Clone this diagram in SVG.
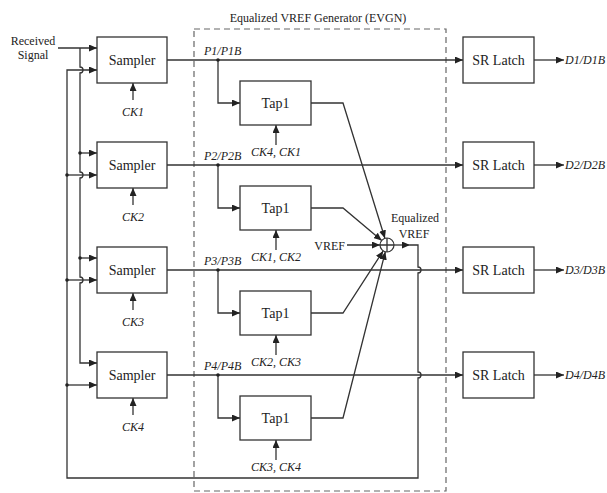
<svg xmlns="http://www.w3.org/2000/svg" width="607" height="493" viewBox="0 0 607 493" font-family="'Liberation Serif', 'Times New Roman', serif">
<style>
text{font-family:'Liberation Serif','Times New Roman',serif;fill:#222}
.box{fill:#fff;stroke:#333;stroke-width:1.3}
.lbl{font-size:14px;text-anchor:middle}
.it{font-size:12px;font-style:italic}
.sm{font-size:12px}
.c{text-anchor:middle}
.w{fill:none;stroke:#333;stroke-width:1.3}
.a{marker-end:url(#ah)}
.dot{fill:#222}
</style>
<defs>
<marker id="ah" markerUnits="userSpaceOnUse" markerWidth="8" markerHeight="7" refX="8" refY="3.5" orient="auto">
<path d="M0,0 L8,3.5 L0,7 z" fill="#222"/>
</marker>
</defs>
<rect x="194" y="29" width="252" height="462" fill="none" stroke="#666" stroke-width="1.2" stroke-dasharray="6,4"/>
<text class="sm c" x="318" y="22">Equalized VREF Generator (EVGN)</text>
<text class="sm c" x="33" y="45">Received</text>
<text class="sm c" x="33" y="59">Signal</text>
<g id="connectors">
<path class="w a" d="M58,48 H97"/>
<path class="w a" d="M80,48 V67 A3,3 0 0 1 80,73 V172 A3,3 0 0 1 80,178 V277 A3,3 0 0 1 80,283 V363 H97"/>
<path class="w a" d="M80,153 H97"/>
<path class="w a" d="M80,258 H97"/>
<path class="w a" d="M410,245 H418 V267 A3,3 0 0 1 418,273 V372 A3,3 0 0 1 418,378 V478 H67 V70 H97"/>
<path class="w a" d="M67,175 H97"/>
<path class="w a" d="M67,280 H97"/>
<path class="w a" d="M67,385 H97"/>
<path class="w a" d="M167,60 H463"/>
<path class="w a" d="M167,165 H463"/>
<path class="w a" d="M167,270 H463"/>
<path class="w a" d="M167,375 H463"/>
<path class="w a" d="M218,60 V103 H240"/>
<path class="w a" d="M218,165 V208 H240"/>
<path class="w a" d="M218,270 V313 H240"/>
<path class="w a" d="M218,375 V418 H240"/>
<path class="w a" d="M311,103 H343 L384.9,238.3"/>
<path class="w a" d="M311,208 H343 L381.7,240.6"/>
<path class="w a" d="M311,313 H343 L383.2,250.9"/>
<path class="w a" d="M311,418 H343 L385.3,251.8"/>
<path class="w a" d="M347,245 H380"/>
<path class="w a" d="M394,245 H410"/>
<path class="w a" d="M133,100 V83"/>
<path class="w a" d="M133,205 V188"/>
<path class="w a" d="M133,310 V293"/>
<path class="w a" d="M133,415 V398"/>
<path class="w a" d="M276,145 V125"/>
<path class="w a" d="M276,250 V230"/>
<path class="w a" d="M276,355 V335"/>
<path class="w a" d="M276,460 V440"/>
<path class="w a" d="M534,60 H564"/>
<path class="w a" d="M534,165 H564"/>
<path class="w a" d="M534,270 H564"/>
<path class="w a" d="M534,375 H564"/>
<circle class="dot" cx="80" cy="153" r="1.8"/>
<circle class="dot" cx="80" cy="258" r="1.8"/>
<circle class="dot" cx="67" cy="175" r="1.8"/>
<circle class="dot" cx="67" cy="280" r="1.8"/>
<circle class="dot" cx="67" cy="385" r="1.8"/>
<circle class="dot" cx="218" cy="60" r="1.8"/>
<circle class="dot" cx="218" cy="165" r="1.8"/>
<circle class="dot" cx="218" cy="270" r="1.8"/>
<circle class="dot" cx="218" cy="375" r="1.8"/>
</g>
<g id="sampler1"><rect class="box" x="97" y="37" width="70" height="46"/><text class="lbl" x="132" y="65">Sampler</text><text class="it c" x="133" y="116">CK1</text></g>
<g id="sampler2"><rect class="box" x="97" y="142" width="70" height="46"/><text class="lbl" x="132" y="170">Sampler</text><text class="it c" x="133" y="221">CK2</text></g>
<g id="sampler3"><rect class="box" x="97" y="247" width="70" height="46"/><text class="lbl" x="132" y="275">Sampler</text><text class="it c" x="133" y="326">CK3</text></g>
<g id="sampler4"><rect class="box" x="97" y="352" width="70" height="46"/><text class="lbl" x="132" y="380">Sampler</text><text class="it c" x="133" y="431">CK4</text></g>
<g id="plabels">
<text class="it" x="204" y="55">P1/P1B</text>
<text class="it" x="204" y="160">P2/P2B</text>
<text class="it" x="204" y="265">P3/P3B</text>
<text class="it" x="204" y="370">P4/P4B</text>
</g>
<g id="tap1"><rect class="box" x="240" y="81" width="71" height="44"/><text class="lbl" x="275.5" y="108">Tap1</text><text class="it c" x="276" y="156">CK4, CK1</text></g>
<g id="tap2"><rect class="box" x="240" y="186" width="71" height="44"/><text class="lbl" x="275.5" y="213">Tap1</text><text class="it c" x="276" y="261">CK1, CK2</text></g>
<g id="tap3"><rect class="box" x="240" y="291" width="71" height="44"/><text class="lbl" x="275.5" y="318">Tap1</text><text class="it c" x="276" y="366">CK2, CK3</text></g>
<g id="tap4"><rect class="box" x="240" y="396" width="71" height="44"/><text class="lbl" x="275.5" y="423">Tap1</text><text class="it c" x="276" y="471">CK3, CK4</text></g>
<g id="summer">
<circle cx="387" cy="245" r="7" fill="#fff" stroke="#333" stroke-width="1.2"/>
<path class="w" d="M380,245 H394 M387,238 V252" stroke-width="1"/>
<text class="sm" x="345" y="250" text-anchor="end">VREF</text>
<text class="sm c" x="415" y="222">Equalized</text>
<text class="sm c" x="414" y="238">VREF</text>
</g>
<g id="latch1"><rect class="box" x="463" y="37" width="71" height="46"/><text class="lbl" x="498.5" y="65">SR Latch</text><text class="it" x="565" y="64">D1/D1B</text></g>
<g id="latch2"><rect class="box" x="463" y="142" width="71" height="46"/><text class="lbl" x="498.5" y="170">SR Latch</text><text class="it" x="565" y="169">D2/D2B</text></g>
<g id="latch3"><rect class="box" x="463" y="247" width="71" height="46"/><text class="lbl" x="498.5" y="275">SR Latch</text><text class="it" x="565" y="274">D3/D3B</text></g>
<g id="latch4"><rect class="box" x="463" y="352" width="71" height="46"/><text class="lbl" x="498.5" y="380">SR Latch</text><text class="it" x="565" y="379">D4/D4B</text></g>
</svg>
